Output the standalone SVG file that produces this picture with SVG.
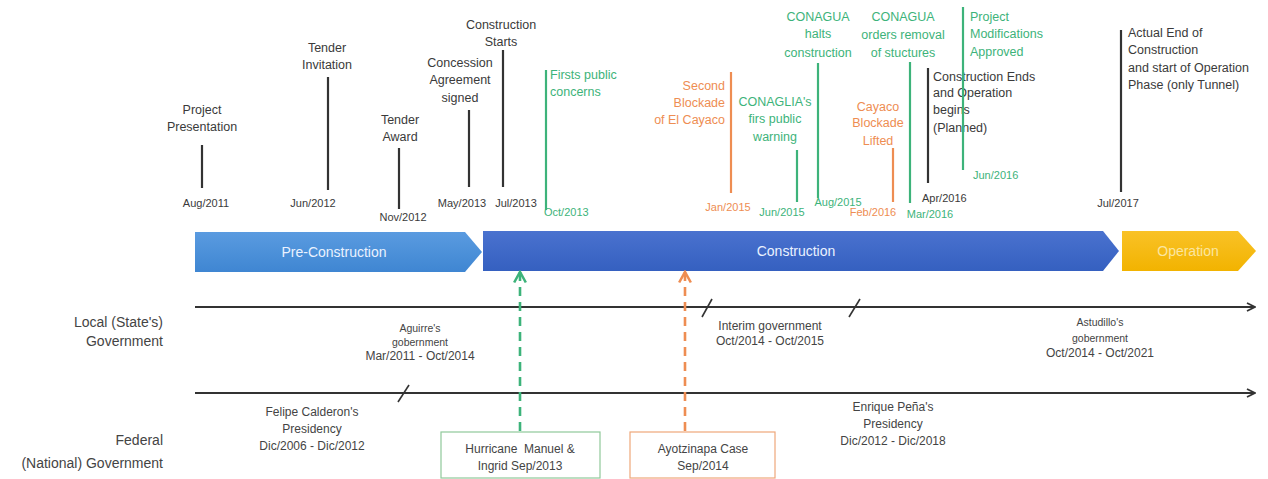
<svg xmlns="http://www.w3.org/2000/svg" width="1268" height="479" viewBox="0 0 1268 479">
<defs>
<style>
text{font-family:"Liberation Sans",Arial,sans-serif;}
.ev{font-size:12.5px;fill:#3a3a3a;}
.evg{font-size:12.5px;fill:#3db37a;}
.evo{font-size:12.5px;fill:#ee8d52;}
.dt{font-size:11px;fill:#3a3a3a;}
.dtg{font-size:11px;fill:#3db37a;}
.dto{font-size:11px;fill:#ee8d52;}
.lk{stroke:#333;stroke-width:2.2;}
.lg{stroke:#3db37a;stroke-width:2.2;}
.lo{stroke:#ee8d52;stroke-width:2.2;}
.gov{font-size:12px;fill:#444;text-anchor:middle;}
.govs{font-size:10.5px;fill:#444;text-anchor:middle;}
.side{font-size:14px;fill:#444;text-anchor:end;}
.phase{font-size:14px;fill:#eaf2ff;text-anchor:middle;}
.tl{stroke:#333;stroke-width:2;fill:none;}
.brk{stroke:#333;stroke-width:1.6;}
</style>
<linearGradient id="gPre" x1="0" y1="0" x2="0" y2="1"><stop offset="0" stop-color="#5a9be0"/><stop offset="1" stop-color="#3f86d2"/></linearGradient>
<linearGradient id="gCon" x1="0" y1="0" x2="0" y2="1"><stop offset="0" stop-color="#4a72cf"/><stop offset="1" stop-color="#3560c0"/></linearGradient>
<linearGradient id="gOp" x1="0" y1="0" x2="0" y2="1"><stop offset="0" stop-color="#f9c227"/><stop offset="1" stop-color="#f2b300"/></linearGradient>
<marker id="arr" viewBox="0 0 10 10" refX="9" refY="5" markerWidth="10" markerHeight="10" markerUnits="userSpaceOnUse" orient="auto"><path d="M1,1 L9,5 L1,9" fill="none" stroke="#333" stroke-width="1.8"/></marker>
<marker id="arrG" viewBox="0 0 12 12" refX="10" refY="6" markerWidth="14" markerHeight="14" markerUnits="userSpaceOnUse" orient="auto"><path d="M1,1 L10,6 L1,11" fill="none" stroke="#3db37a" stroke-width="2.2"/></marker>
<marker id="arrO" viewBox="0 0 12 12" refX="10" refY="6" markerWidth="14" markerHeight="14" markerUnits="userSpaceOnUse" orient="auto"><path d="M1,1 L10,6 L1,11" fill="none" stroke="#ee8d52" stroke-width="2.2"/></marker>
</defs>
<rect width="1268" height="479" fill="#ffffff"/>

<!-- Phases -->
<g id="phase-pre"><path d="M195,232 H465 L482,252 L465,272 H195 Z" fill="url(#gPre)"/><text class="phase" x="334" y="257">Pre-Construction</text></g>
<g id="phase-con"><path d="M483,231 H1103 L1119,251 L1103,271 H483 Z" fill="url(#gCon)"/><text class="phase" x="796" y="256">Construction</text></g>
<g id="phase-op"><path d="M1122,231 H1238 L1256,251 L1238,271 H1122 Z" fill="url(#gOp)"/><text class="phase" x="1188" y="256" style="fill:#fbe6a0">Operation</text></g>

<!-- Events -->
<g id="ev-project-presentation">
<line class="lk" x1="202" y1="145" x2="202" y2="188"/>
<text class="ev" text-anchor="middle" x="202" y="114">Project</text>
<text class="ev" text-anchor="middle" x="202" y="131">Presentation</text>
<text class="dt" text-anchor="middle" x="206" y="207">Aug/2011</text>
</g>
<g id="ev-tender-invitation">
<line class="lk" x1="328" y1="77" x2="328" y2="190"/>
<text class="ev" text-anchor="middle" x="327" y="52">Tender</text>
<text class="ev" text-anchor="middle" x="327" y="69">Invitation</text>
<text class="dt" text-anchor="middle" x="313" y="207">Jun/2012</text>
</g>
<g id="ev-tender-award">
<line class="lk" x1="399" y1="148" x2="399" y2="209"/>
<text class="ev" text-anchor="middle" x="400" y="124">Tender</text>
<text class="ev" text-anchor="middle" x="400" y="141">Award</text>
<text class="dt" text-anchor="middle" x="403" y="221">Nov/2012</text>
</g>
<g id="ev-concession">
<line class="lk" x1="469" y1="110" x2="469" y2="187"/>
<text class="ev" text-anchor="middle" x="460" y="67">Concession</text>
<text class="ev" text-anchor="middle" x="460" y="84">Agreement</text>
<text class="ev" text-anchor="middle" x="460" y="102">signed</text>
<text class="dt" text-anchor="middle" x="462" y="207">May/2013</text>
</g>
<g id="ev-construction-starts">
<line class="lk" x1="503" y1="50" x2="503" y2="187"/>
<text class="ev" text-anchor="middle" x="501" y="29">Construction</text>
<text class="ev" text-anchor="middle" x="501" y="46">Starts</text>
<text class="dt" text-anchor="middle" x="516" y="207">Jul/2013</text>
</g>
<g id="ev-firsts-public-concerns">
<line class="lg" x1="546" y1="70" x2="546" y2="210"/>
<text class="evg" x="550" y="79">Firsts public</text>
<text class="evg" x="550" y="96">concerns</text>
<text class="dtg" x="544" y="216">Oct/2013</text>
</g>
<g id="ev-second-blockade">
<line class="lo" x1="731" y1="72" x2="731" y2="193"/>
<text class="evo" text-anchor="end" x="725" y="90">Second</text>
<text class="evo" text-anchor="end" x="725" y="107">Blockade</text>
<text class="evo" text-anchor="end" x="725" y="124">of El Cayaco</text>
<text class="dto" text-anchor="middle" x="728" y="211">Jan/2015</text>
</g>
<g id="ev-conaglia-warning">
<line class="lg" x1="797" y1="150" x2="797" y2="202"/>
<text class="evg" text-anchor="middle" x="775" y="106">CONAGLIA's</text>
<text class="evg" text-anchor="middle" x="775" y="123">firs public</text>
<text class="evg" text-anchor="middle" x="775" y="141">warning</text>
<text class="dtg" text-anchor="middle" x="782" y="216">Jun/2015</text>
</g>
<g id="ev-conagua-halts">
<line class="lg" x1="818" y1="63" x2="818" y2="198"/>
<text class="evg" text-anchor="middle" x="818" y="21">CONAGUA</text>
<text class="evg" text-anchor="middle" x="818" y="38">halts</text>
<text class="evg" text-anchor="middle" x="818" y="57">construction</text>
<text class="dtg" text-anchor="middle" x="838" y="206">Aug/2015</text>
</g>
<g id="ev-cayaco-lifted">
<line class="lo" x1="893" y1="148" x2="893" y2="202"/>
<text class="evo" text-anchor="middle" x="878" y="111">Cayaco</text>
<text class="evo" text-anchor="middle" x="878" y="127">Blockade</text>
<text class="evo" text-anchor="middle" x="878" y="145">Lifted</text>
<text class="dto" text-anchor="middle" x="873" y="216">Feb/2016</text>
</g>
<g id="ev-conagua-removal">
<line class="lg" x1="910" y1="62" x2="910" y2="203"/>
<text class="evg" text-anchor="middle" x="903" y="21">CONAGUA</text>
<text class="evg" text-anchor="middle" x="903" y="39">orders removal</text>
<text class="evg" text-anchor="middle" x="903" y="57">of stuctures</text>
<text class="dtg" text-anchor="middle" x="930" y="218">Mar/2016</text>
</g>
<g id="ev-construction-ends-planned">
<line class="lk" x1="928" y1="68" x2="928" y2="183"/>
<text class="ev" x="933" y="81">Construction Ends</text>
<text class="ev" x="933" y="97">and Operation</text>
<text class="ev" x="933" y="114">begins</text>
<text class="ev" x="933" y="132">(Planned)</text>
<text class="dt" x="922" y="202">Apr/2016</text>
</g>
<g id="ev-project-modifications">
<line class="lg" x1="963" y1="7" x2="963" y2="170"/>
<text class="evg" x="970" y="21">Project</text>
<text class="evg" x="970" y="38">Modifications</text>
<text class="evg" x="970" y="56">Approved</text>
<text class="dtg" x="973" y="179">Jun/2016</text>
</g>
<g id="ev-actual-end">
<line class="lk" x1="1121" y1="30" x2="1121" y2="192"/>
<text class="ev" x="1128" y="37">Actual End of</text>
<text class="ev" x="1128" y="54">Construction</text>
<text class="ev" x="1128" y="72">and start of Operation</text>
<text class="ev" x="1128" y="89">Phase (only Tunnel)</text>
<text class="dt" text-anchor="middle" x="1118" y="207">Jul/2017</text>
</g>

<!-- Government rows -->
<g id="label-local"><text class="side" x="163" y="327">Local (State's)</text><text class="side" x="163" y="346">Government</text></g>
<g id="label-federal"><text class="side" x="163" y="445">Federal</text><text class="side" x="163" y="468">(National) Government</text></g>

<g id="gov-aguirre"><text class="govs" x="420" y="332">Aguirre's</text><text class="govs" x="420" y="346">gobernment</text><text class="gov" x="420" y="360">Mar/2011 - Oct/2014</text></g>
<g id="gov-interim"><text class="gov" x="770" y="330">Interim government</text><text class="gov" x="770" y="345">Oct/2014 - Oct/2015</text></g>
<g id="gov-astudillo"><text class="govs" x="1100" y="326">Astudillo's</text><text class="govs" x="1100" y="342">gobernment</text><text class="gov" x="1100" y="357">Oct/2014 - Oct/2021</text></g>
<g id="gov-calderon"><text class="gov" x="312" y="416">Felipe Calderon's</text><text class="gov" x="312" y="433">Presidency</text><text class="gov" x="312" y="450">Dic/2006 - Dic/2012</text></g>
<g id="gov-pena"><text class="gov" x="893" y="411">Enrique Peña's</text><text class="gov" x="893" y="428">Presidency</text><text class="gov" x="893" y="445">Dic/2012 - Dic/2018</text></g>

<g id="box-hurricane">
<rect x="441" y="432" width="159" height="46" fill="#fff" stroke="#8fc99a" stroke-width="1.2"/>
<text class="gov" x="520" y="453" xml:space="preserve">Hurricane  Manuel &amp;</text>
<text class="gov" x="520" y="470">Ingrid Sep/2013</text>
</g>
<g id="box-ayotzinapa">
<rect x="630" y="432" width="145" height="46" fill="#fff" stroke="#eea77a" stroke-width="1.2"/>
<text class="gov" x="703" y="453">Ayotzinapa Case</text>
<text class="gov" x="703" y="470">Sep/2014</text>
</g>

<!-- Connectors -->
<g id="connectors">
<line class="tl" x1="195" y1="307" x2="1255" y2="307" marker-end="url(#arr)"/>
<line class="tl" x1="195" y1="393" x2="1255" y2="393" marker-end="url(#arr)"/>
<line class="brk" x1="702" y1="317" x2="712" y2="299"/>
<line class="brk" x1="849" y1="317" x2="860" y2="299"/>
<line class="brk" x1="398" y1="402" x2="409" y2="385"/>
<line x1="520" y1="431" x2="520" y2="272" stroke="#3db37a" stroke-width="2.6" stroke-dasharray="9,6" marker-end="url(#arrG)"/>
<line x1="685" y1="431" x2="685" y2="272" stroke="#ee8d52" stroke-width="2.6" stroke-dasharray="9,6" marker-end="url(#arrO)"/>
</g>
</svg>
